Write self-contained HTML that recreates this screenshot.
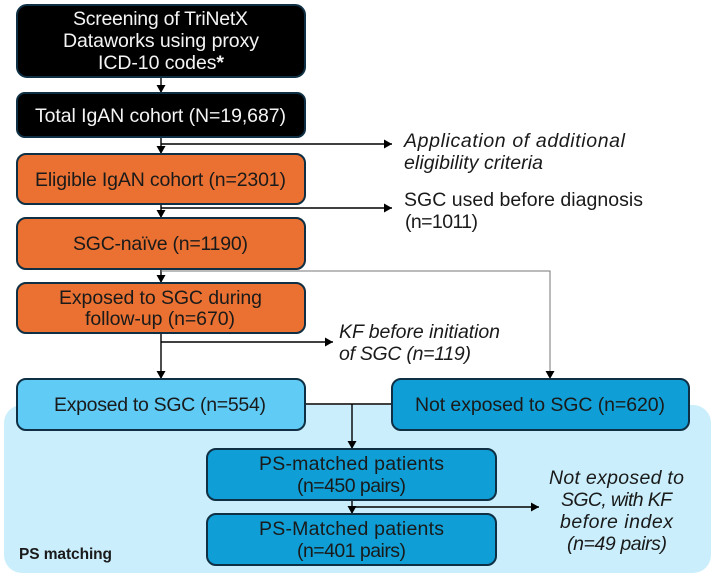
<!DOCTYPE html>
<html><head><meta charset="utf-8">
<style>
html,body{margin:0;padding:0;background:#fff}
svg{display:block}
text{font-family:"Liberation Sans",sans-serif;font-size:19.5px;fill:#1a1a1a}
.w{fill:#f4f4f4}
.i{font-style:italic}
.b{stroke:#0E2F44;stroke-width:2}
.l{stroke:#000;stroke-width:1.4;fill:none}
.g{stroke:#777;stroke-width:1;fill:none}
</style></head><body>
<svg width="715" height="577" viewBox="0 0 715 577" xmlns="http://www.w3.org/2000/svg">
<defs>
<marker id="a" markerUnits="userSpaceOnUse" markerWidth="10" markerHeight="10" refX="8" refY="4.5" orient="auto"><path d="M0,0L8,4.5L0,9z" fill="#000"/></marker>
</defs>
<rect x="4" y="405" width="707" height="168" rx="18" fill="#CAEEFB"/>

<path class="l" d="M161 77V93" marker-end="url(#a)"/>
<path class="l" d="M161 137V154" marker-end="url(#a)"/>
<path class="l" d="M161 144H392" marker-end="url(#a)"/>
<path class="l" d="M161 204V218" marker-end="url(#a)"/>
<path class="l" d="M161 208H392" marker-end="url(#a)"/>
<path class="l" d="M161 269V283" marker-end="url(#a)"/>
<path class="g" d="M161 271H550V379" marker-end="url(#a)"/>
<path class="l" d="M161 333V379" marker-end="url(#a)"/>
<path class="l" d="M161 342H333" marker-end="url(#a)"/>
<path class="l" d="M305 404H392"/>
<path class="l" d="M352 404V449" marker-end="url(#a)"/>
<path class="l" d="M352 500V514" marker-end="url(#a)"/>
<path class="l" d="M352 507H539" marker-end="url(#a)"/>

<rect class="b" x="17" y="5" width="288" height="72" rx="10" fill="#000"/>
<rect class="b" x="17" y="93" width="288" height="44" rx="8" fill="#000"/>
<rect class="b" x="17" y="154" width="288" height="50" rx="9" fill="#EA7131"/>
<rect class="b" x="17" y="218" width="288" height="51" rx="9" fill="#EA7131"/>
<rect class="b" x="17" y="283" width="288" height="50" rx="9" fill="#EA7131"/>
<rect class="b" x="17" y="379" width="288" height="51" rx="9" fill="#60CBF5"/>
<rect class="b" x="392" y="379" width="297" height="51" rx="9" fill="#0F9ED5"/>
<rect class="b" x="207" y="449" width="289" height="51" rx="9" fill="#0F9ED5"/>
<rect class="b" x="207" y="514" width="289" height="51" rx="9" fill="#0F9ED5"/>

<text class="w" x="73" y="25" textLength="175" lengthAdjust="spacing">Screening of TriNetX</text>
<text class="w" x="63" y="47" textLength="196" lengthAdjust="spacing">Dataworks using proxy</text>
<text class="w" x="98" y="69" textLength="126" lengthAdjust="spacing">ICD-10 codes<tspan font-weight="bold">*</tspan></text>
<text class="w" x="35" y="122" textLength="251" lengthAdjust="spacing">Total IgAN cohort (N=19,687)</text>
<text x="35" y="186" textLength="251" lengthAdjust="spacing">Eligible IgAN cohort (n=2301)</text>
<text x="73" y="250" textLength="175" lengthAdjust="spacing">SGC-naïve (n=1190)</text>
<text x="59" y="304" textLength="203" lengthAdjust="spacing">Exposed to SGC during</text>
<text x="85" y="325" textLength="150" lengthAdjust="spacing">follow-up (n=670)</text>
<text x="54" y="411" textLength="212" lengthAdjust="spacing">Exposed to SGC (n=554)</text>
<text x="415" y="411" textLength="250" lengthAdjust="spacing">Not exposed to SGC (n=620)</text>
<text x="259" y="470" textLength="185" lengthAdjust="spacing">PS-matched patients</text>
<text x="297" y="492" textLength="109" lengthAdjust="spacing">(n=450 pairs)</text>
<text x="259" y="535" textLength="185" lengthAdjust="spacing">PS-Matched patients</text>
<text x="297" y="557" textLength="109" lengthAdjust="spacing">(n=401 pairs)</text>

<text class="i" x="404" y="147" textLength="221" lengthAdjust="spacing">Application of additional</text>
<text class="i" x="404" y="169" textLength="139" lengthAdjust="spacing">eligibility criteria</text>
<text x="404" y="206" textLength="239" lengthAdjust="spacing">SGC used before diagnosis</text>
<text x="405" y="228" textLength="73" lengthAdjust="spacing">(n=1011)</text>
<text class="i" x="339" y="338" textLength="161" lengthAdjust="spacing">KF before initiation</text>
<text class="i" x="339" y="360" textLength="132" lengthAdjust="spacing">of SGC (n=119)</text>
<text class="i" x="549" y="484" textLength="135" lengthAdjust="spacing">Not exposed to</text>
<text class="i" x="561" y="506" textLength="111" lengthAdjust="spacing">SGC, with KF</text>
<text class="i" x="560" y="528" textLength="113" lengthAdjust="spacing">before index</text>
<text class="i" x="567" y="550" textLength="100" lengthAdjust="spacing">(n=49 pairs)</text>

<text x="19" y="559" style="font-size:15.5px;font-weight:bold" textLength="93" lengthAdjust="spacing">PS matching</text>
</svg>
</body></html>
